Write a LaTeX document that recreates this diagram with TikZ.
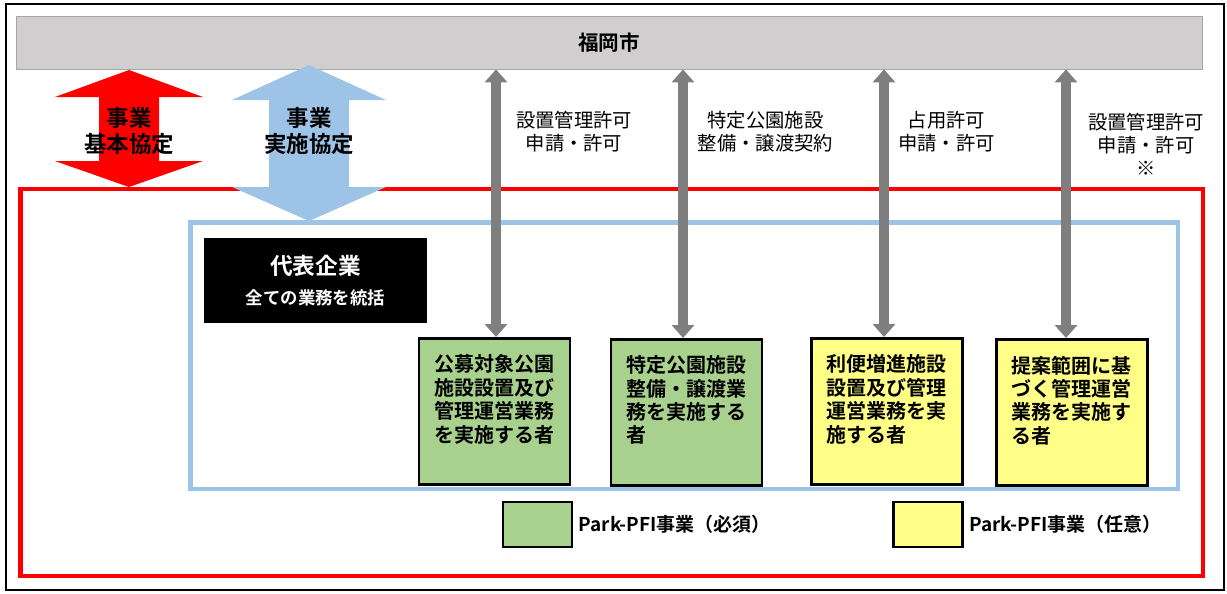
\documentclass[tikz,border=0pt]{standalone}
\usepackage{fontspec}
\setmainfont{Noto Sans CJK JP}[BoldFont={Noto Sans CJK JP Bold}]
\usetikzlibrary{arrows.meta,positioning}
\definecolor{frred}{HTML}{FF0000}
\definecolor{frblue}{HTML}{9DC3E6}
\definecolor{bargray}{HTML}{D0CECE}
\definecolor{argray}{HTML}{7F7F7F}
\definecolor{mustgreen}{HTML}{A9D18E}
\definecolor{optyellow}{HTML}{FFFF88}
\newcommand\boxtxt[1]{\parbox[t][2.26cm][t]{2.42cm}{#1}}
\begin{document}
\begin{tikzpicture}[x=.02cm,y=-.02cm, font=\bfseries,
 gtip/.tip={Triangle[width=12.5pt,length=7.4pt]},
 garrow/.style={draw=argray,line width=5.7pt,gtip-gtip},
 jbox/.style={draw,line width=1.5pt,inner xsep=.3cm,inner ysep=.33cm,anchor=north,
   font=\fontsize{11.4pt}{13.3pt}\selectfont\bfseries},
 lbl/.style={align=center,font=\fontsize{11pt}{13pt}\selectfont},
 key/.style={draw,line width=1.5pt,minimum width=1.38cm,minimum height=.9cm},
 keytxt/.style={right=.1cm of #1,font=\fontsize{10.8pt}{12pt}\selectfont\bfseries,inner sep=0pt}]
\useasboundingbox (0,0) rectangle (1227,593);
\draw[line width=1.5pt] (6,4) rectangle (1224,590);
\draw[frred,line width=2.3pt] (20.5,189) rectangle (1203,576);
\draw[frblue,line width=2.5pt] (190.5,222.5) rectangle (1178,489);
\node[fill=bargray,draw=gray!70,minimum width=23.72cm,minimum height=1.06cm,
  font=\fontsize{11.7pt}{14pt}\selectfont\bfseries] (city) at (609,42.5) {福岡市};
% agreements
\foreach \c/\x/\t/\u/\v/\b/\hw/\sw in {frred/129/70/97/161/187/74/30, frblue/309/65/100/187/221/77/40}
 \fill[\c] (\x,\t) -- (\x+\hw,\u) -- (\x+\sw,\u) -- (\x+\sw,\v) -- (\x+\hw,\v) -- (\x,\b)
  -- (\x-\hw,\v) -- (\x-\sw,\v) -- (\x-\sw,\u) -- (\x-\hw,\u) -- cycle;
\path[font=\fontsize{12.8pt}{15.3pt}\selectfont\bfseries] (129,131) node[align=center] (kihon) {事業\\基本協定}
 (309,131) node[align=center] (jisshi) {事業\\実施協定};
\node[fill=black,text=white,minimum width=4.46cm,minimum height=1.7cm,align=center] (rep) at (315.5,280.5)
 {{\fontsize{12.9pt}{14pt}\selectfont 代表企業}\\[5pt]{\fontsize{9.9pt}{12pt}\selectfont 全ての業務を統括}};
\path (494.5,337) node[jbox,fill=mustgreen] (b1) {\boxtxt{公募対象公園\\施設設置及び\\管理運営業務\\を実施する者}}
 (686.5,338) node[jbox,fill=mustgreen] (b2) {\boxtxt{特定公園施設\\整備・譲渡業\\務を実施する\\者}}
 (887,337) node[jbox,fill=optyellow] (b3) {\boxtxt{利便増進施設\\設置及び管理\\運営業務を実\\施する者}}
 (1072,338) node[jbox,fill=optyellow] (b4) {\boxtxt{提案範囲に基\\づく管理運営\\業務を実施す\\る者}};
\foreach \b/\d in {b1/1.5,b2/-3.5,b3/-3,b4/-6}
 \draw[garrow] ([xshift=\d*.02cm]\b.north |- city.south) -- ([xshift=\d*.02cm]\b.north);
\path[lbl] (574,131.5) node (l1) {設置管理許可\\申請・許可}
 (765.5,131.5) node (l2) {特定公園施設\\整備・譲渡契約}
 (946.5,131.5) node (l3) {占用許可\\申請・許可}
 (1146,144) node (l4) {設置管理許可\\申請・許可\\※};
% legend
\node[key,fill=mustgreen] (k1) at (537.5,524.5) {};
\node[keytxt=k1] (t1) {Park-PFI事業（必須）};
\node[key,fill=optyellow] (k2) at (928,524.5) {};
\node[keytxt=k2] (t2) {Park-PFI事業（任意）};
\end{tikzpicture}
\end{document}
